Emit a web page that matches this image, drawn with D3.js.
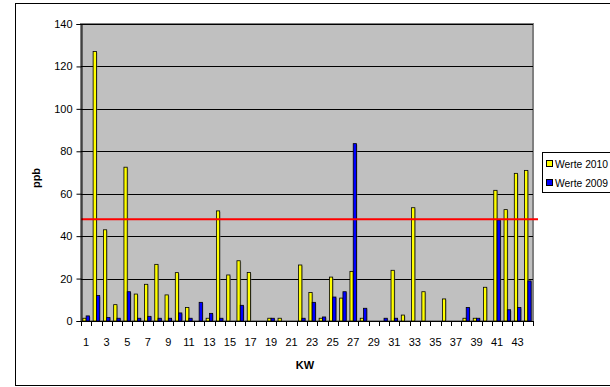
<!DOCTYPE html>
<html>
<head>
<meta charset="utf-8">
<script src="https://cdn.jsdelivr.net/npm/d3@7"></script>
<style>
  html, body { margin: 0; padding: 0; background: #fff; }
  svg { display: block; font-family: "Liberation Sans", Arial, sans-serif; }
</style>
</head>
<body>
<svg id="chart" width="610" height="387"></svg>
<script>
// Calendar weeks (KW) 1..44
const weeks = d3.range(1, 45);
// Measured values in ppb per week; null = no measurement
const werte2010 = [1.3, 127, 43, 7.7, 72.5, 12.7, 17.3, 26.7, 12.3, 22.8, 6.4, null, 1.3, 51.9, 21.7, 28.4, 22.9, null, 1.3, 1.3, null, 26.4, 13.4, 1.3, 20.7, 10.8, 23.4, 1.3, null, null, 23.9, 2.8, 53.4, 13.8, null, 10.4, null, 1.3, 1.3, 15.9, 61.6, 52.5, 69.6, 71.0];
const werte2009 = [2.4, 12, 1.7, 1.3, 13.8, 1.3, 2.2, 1.3, 1.3, 3.8, 1.3, 8.8, 3.6, 1.3, null, 7.4, null, null, 1.3, null, null, 1.3, 8.8, 1.9, 11.3, 13.8, 83.6, 6.0, null, 1.3, 1.3, null, null, null, null, null, null, 6.4, 1.3, null, 47.6, 5.3, 6.4, 18.9];
const seriesNames = ["Werte 2010", "Werte 2009"];
const seriesColors = ["#FFFF00", "#0000FF"];
const limitValue = 48;
const yTicks = [0, 20, 40, 60, 80, 100, 120, 140];
const xTickLabels = weeks.filter(w => w % 2 === 1);

const svg = d3.select("#chart");
const plot = { left: 81, right: 533, top: 24, bottom: 321 };

// Outer chart frame
svg.append("rect")
  .attr("x", 15.5).attr("y", 3.5).attr("width", 620).attr("height", 382)
  .attr("fill", "#fff").attr("stroke", "#000").attr("stroke-width", 1);

const x = d3.scaleBand().domain(weeks).range([plot.left, plot.right]).padding(0);
const y = d3.scaleLinear().domain([0, 140]).range([plot.bottom, plot.top]);

// Plot area
svg.append("rect")
  .attr("x", plot.left).attr("y", plot.top)
  .attr("width", plot.right - plot.left).attr("height", plot.bottom - plot.top)
  .attr("fill", "#C0C0C0").attr("stroke", "#808080").attr("stroke-width", 2);

// Horizontal gridlines
svg.append("g").selectAll("line")
  .data(yTicks.filter(t => t > 0))
  .join("line")
  .attr("x1", plot.left).attr("x2", plot.right)
  .attr("y1", d => Math.round(y(d)) + 0.5).attr("y2", d => Math.round(y(d)) + 0.5)
  .attr("stroke", "#000").attr("stroke-width", 1);

// Bars
const bw = x.bandwidth();
const barW = bw * 0.32;
const groupOffset = (bw - 2 * barW) / 2;
const series = [werte2010, werte2009];
series.forEach((vals, si) => {
  const data = weeks.map((w, i) => ({ w, v: vals[i] })).filter(d => d.v != null && d.v > 0);
  const g = svg.append("g");
  // soft shadow behind each bar
  g.selectAll("rect.shadow").data(data).join("rect")
    .attr("class", "shadow")
    .attr("x", d => x(d.w) + groupOffset + si * barW + 1)
    .attr("y", d => y(d.v) + 1)
    .attr("width", barW)
    .attr("height", d => plot.bottom - y(d.v) - 1)
    .attr("fill", "#808080").attr("opacity", 0.6);
  g.selectAll("rect.bar").data(data).join("rect")
    .attr("class", "bar")
    .attr("x", d => x(d.w) + groupOffset + si * barW)
    .attr("y", d => y(d.v))
    .attr("width", barW)
    .attr("height", d => plot.bottom - y(d.v))
    .attr("fill", seriesColors[si])
    .attr("stroke", "#000").attr("stroke-width", 0.8);
});

// Limit line
svg.append("line")
  .attr("x1", plot.left).attr("x2", 538)
  .attr("y1", y(limitValue)).attr("y2", y(limitValue))
  .attr("stroke", "#FF0000").attr("stroke-width", 2);

// Y axis
const yAxis = d3.axisLeft(y).tickValues(yTicks).tickSize(5).tickPadding(4);
const gy = svg.append("g").attr("transform", `translate(${plot.left + 0.5},0)`).call(yAxis);
gy.select(".domain").attr("stroke", "#000");
gy.selectAll(".tick line").attr("stroke", "#000");
gy.selectAll(".tick text").attr("font-size", 11).attr("fill", "#000")
  .attr("font-family", "'Liberation Sans', Arial, sans-serif");

// X axis: ticks on week boundaries, labels on odd weeks
const xAxisLine = svg.append("g");
xAxisLine.append("line")
  .attr("x1", plot.left).attr("x2", plot.right)
  .attr("y1", plot.bottom + 0.5).attr("y2", plot.bottom + 0.5)
  .attr("stroke", "#000");
xAxisLine.selectAll("line.tick")
  .data(weeks.concat([45]))
  .join("line")
  .attr("class", "tick")
  .attr("x1", d => Math.round(d <= 44 ? x(d) : plot.right) + 0.5)
  .attr("x2", d => Math.round(d <= 44 ? x(d) : plot.right) + 0.5)
  .attr("y1", plot.bottom).attr("y2", plot.bottom + 5)
  .attr("stroke", "#000");
xAxisLine.selectAll("text")
  .data(xTickLabels)
  .join("text")
  .attr("x", d => x(d) + bw / 2)
  .attr("y", 346)
  .attr("text-anchor", "middle")
  .attr("font-size", 11)
  .text(d => d);

// Axis titles
svg.append("text")
  .attr("x", 305).attr("y", 369)
  .attr("text-anchor", "middle")
  .attr("font-size", 11).attr("font-weight", "bold")
  .text("KW");
svg.append("text")
  .attr("transform", "translate(40,178) rotate(-90)")
  .attr("text-anchor", "middle")
  .attr("font-size", 11).attr("font-weight", "bold")
  .text("ppb");

// Legend (box runs past the right edge of the canvas)
const legend = svg.append("g");
legend.append("rect")
  .attr("x", 542.5).attr("y", 152.5).attr("width", 80).attr("height", 40)
  .attr("fill", "#fff").attr("stroke", "#000");
seriesNames.forEach((name, i) => {
  const ly = 164 + i * 19;
  legend.append("rect")
    .attr("x", 546.5).attr("y", ly - 3.5).attr("width", 6).attr("height", 6)
    .attr("fill", seriesColors[i]).attr("stroke", "#000");
  legend.append("text")
    .attr("x", 555).attr("y", ly + 4)
    .attr("font-size", 10.3)
    .text(name);
});
</script>
</body>
</html>
